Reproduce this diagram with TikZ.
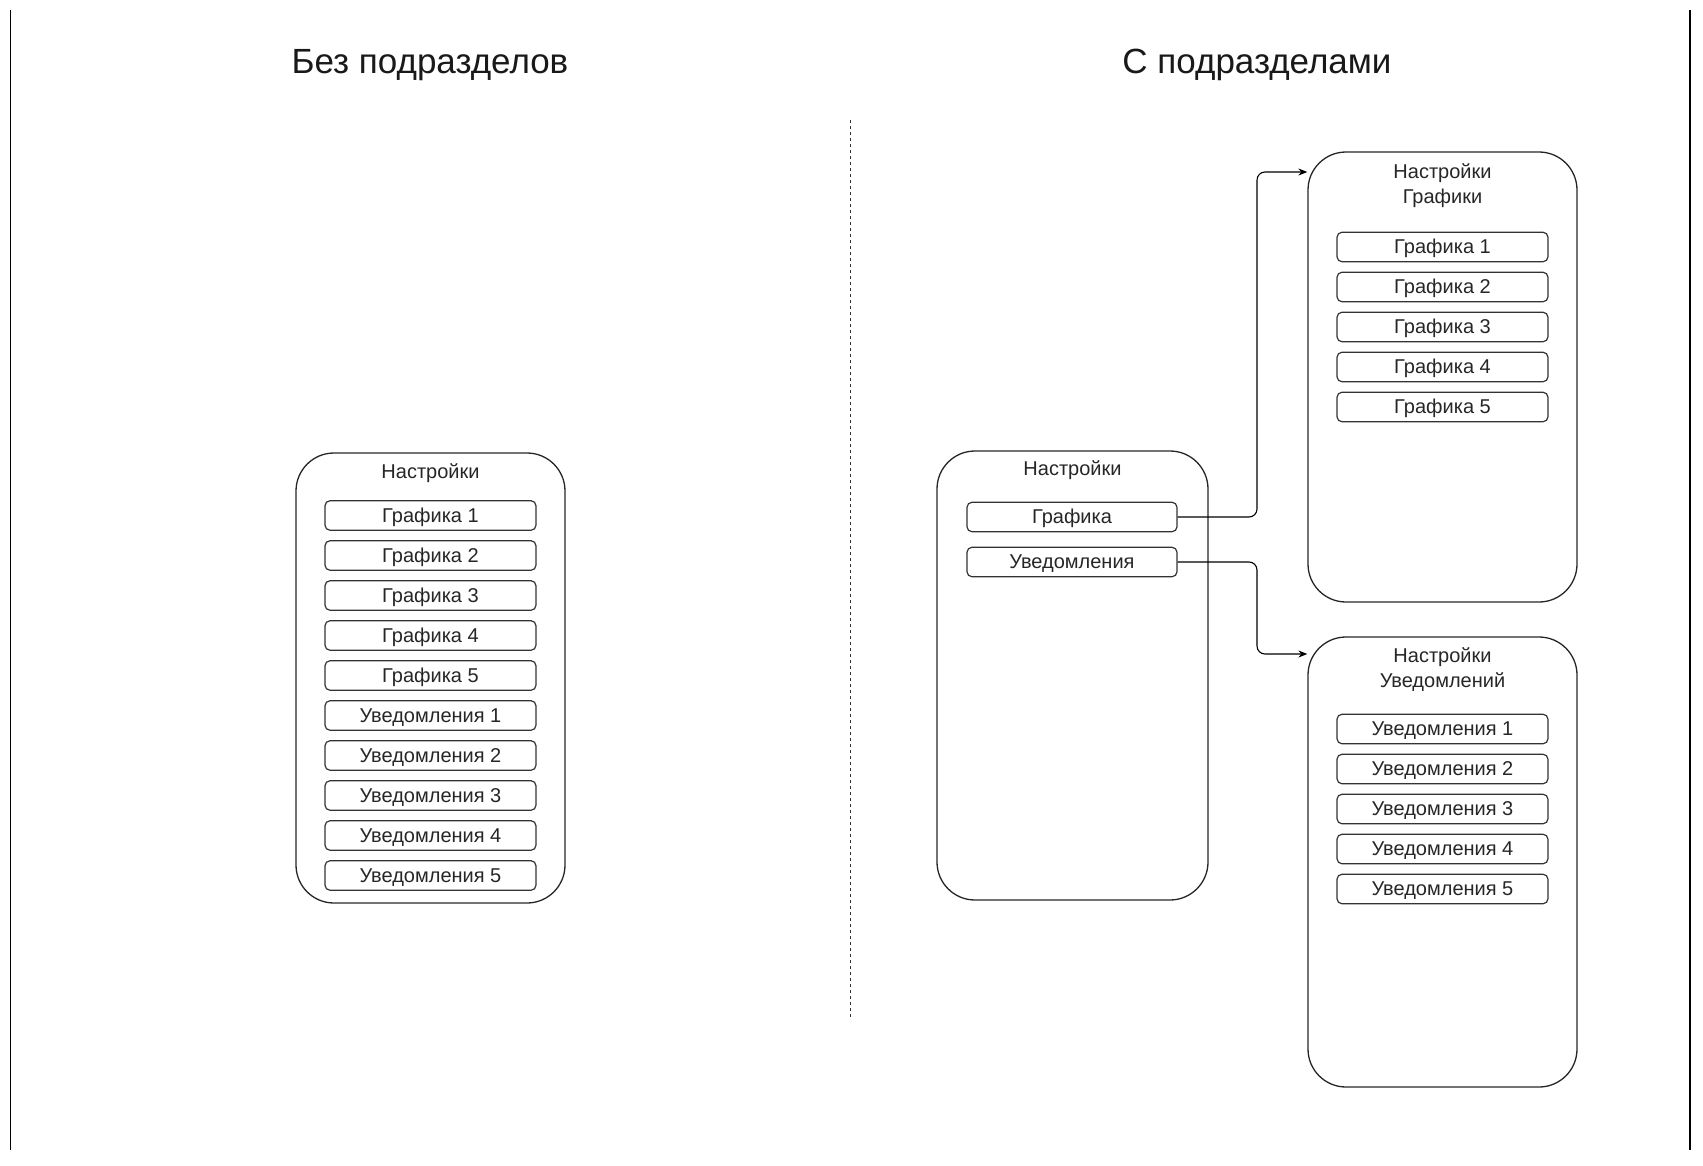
\documentclass[tikz,border=0pt]{standalone}
\usepackage{fontspec}
\setmainfont{Liberation Sans}
\usetikzlibrary{arrows.meta,calc}
\begin{document}
\begin{tikzpicture}[x=1pt,y=-1pt,
  panel/.style={draw=black!85,line width=1.3pt,rounded corners=38pt,minimum width=269pt,minimum height=450pt,inner sep=0pt},
  item/.style={draw=black!80,line width=1.2pt,rounded corners=5pt,minimum width=211pt,minimum height=29.5pt,inner sep=0pt,text height=16pt,text depth=3pt,font=\fontsize{20}{24}\selectfont,text=black!85},
  lbl/.style={inner sep=0pt,align=center,font=\fontsize{20}{25}\selectfont,text=black!85},
  heading/.style={inner sep=0pt,font=\fontsize{35}{42}\selectfont,text=black!90},
  conn/.style={draw=black,line width=1.1pt,rounded corners=8pt},
  tip/.style={-{Stealth[length=9pt,width=7pt]}}]
\useasboundingbox (0,0) rectangle (1703,1165);
% frame lines
\coordinate (lt) at (10.5,10); \coordinate (lb) at (10.5,1150);
\coordinate (rt) at (1690,10); \coordinate (rb) at (1690,1150);
\draw[line width=1.4pt] (lt) -- (lb);
\draw[line width=1.4pt] (rt) -- (rb);
% divider
\coordinate (dt) at (850.5,120); \coordinate (db) at (850.5,1018);
\draw[line width=1.1pt,black!80,dash pattern=on 3pt off 3pt] (dt) -- (db);
% headings
\node[heading] (h1) at (430,65) {Без подразделов};
\node[heading] (h2) at (1257,65) {С подразделами};
% left panel
\node[panel] (lp) at (430.5,678) {};
\node[lbl] (lpt) at (430.5,473.5) {Настройки};
\foreach \i in {1,...,5} {
  \node[item] (lg\i) at (430.5,{515.5+40*(\i-1)}) {Графика \i};
  \node[item] (lu\i) at (430.5,{715.5+40*(\i-1)}) {Уведомления \i};
}
% middle panel
\node[panel,minimum width=271pt,minimum height=449pt] (mp) at (1072.5,675.5) {};
\node[lbl] (mpt) at (1072.5,470.5) {Настройки};
\node[item,minimum width=210pt] (mg) at (1072,517) {Графика};
\node[item,minimum width=210pt] (mu) at (1072,562) {Уведомления};
% top-right panel
\node[panel] (tp) at (1442.5,377) {};
\node[lbl] (tpt) at (1442.5,185.5) {Настройки\\Графики};
\foreach \i in {1,...,5} {
  \node[item] (tg\i) at (1442.5,{247+40*(\i-1)}) {Графика \i};
}
% bottom-right panel
\node[panel] (bp) at (1442.5,862) {};
\node[lbl] (bpt) at (1442.5,669.5) {Настройки\\Уведомлений};
\foreach \i in {1,...,5} {
  \node[item] (bu\i) at (1442.5,{729+40*(\i-1)}) {Уведомления \i};
}
% connectors
\coordinate (j1) at (1257,172);
\coordinate (j2) at (1257,654);
\draw[conn,tip] (mg.east) -| (j1) -- (j1 -| tp.west);
\draw[conn,tip] (mu.east) -| (j2) -- (j2 -| bp.west);
\end{tikzpicture}
\end{document}
